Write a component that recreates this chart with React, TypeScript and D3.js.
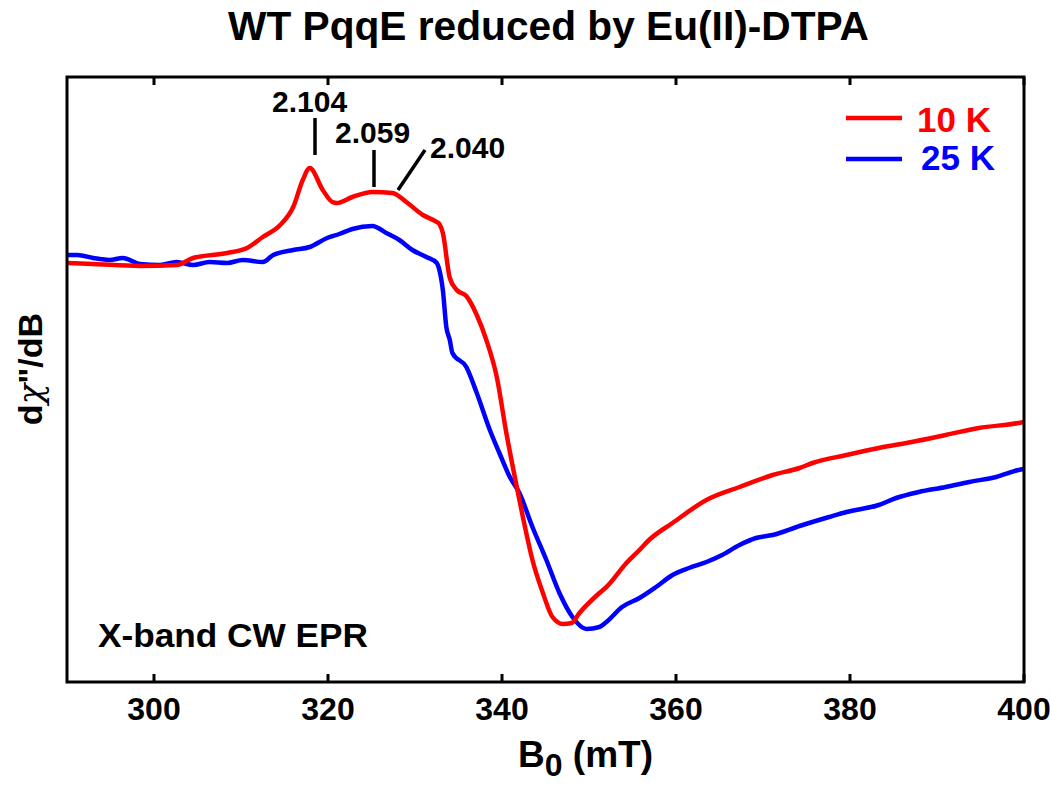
import React from "react";
import * as d3 from "d3";

// ---- data ----
const redField = [290.0, 293.0, 298.4, 302.6, 304.5, 308.4, 310.7, 312.5, 314.5, 316.0, 317.1, 317.9, 319.4, 320.5, 321.0, 322.8, 325.1, 327.4, 329.0, 330.9, 332.5, 332.8, 333.2, 334.0, 334.8, 335.9, 337.1, 338.2, 339.4, 340.5, 341.7, 342.4, 343.5, 344.7, 345.8, 347.0, 348.0, 348.9, 351.2, 352.0, 354.3, 355.8, 356.9, 359.6, 363.5, 367.3, 371.1, 374.2, 375.7, 379.6, 383.3, 387.1, 391.0, 394.8, 399.4, 400.0];
const redSignal = [0.0, -0.01, -0.03, -0.02, 0.05, 0.1, 0.15, 0.26, 0.38, 0.56, 0.83, 0.95, 0.73, 0.61, 0.6, 0.66, 0.71, 0.7, 0.61, 0.48, 0.41, 0.39, 0.3, -0.15, -0.27, -0.33, -0.52, -0.77, -1.14, -1.7, -2.24, -2.54, -2.97, -3.3, -3.54, -3.61, -3.6, -3.5, -3.3, -3.24, -3.0, -2.87, -2.77, -2.6, -2.37, -2.24, -2.12, -2.05, -2.0, -1.92, -1.85, -1.79, -1.72, -1.65, -1.6, -1.59];

const blueField = [290.0, 291.2, 293.0, 293.8, 294.9, 296.4, 298.4, 300.7, 302.6, 304.5, 306.4, 308.4, 310.2, 312.5, 313.7, 316.0, 317.9, 319.9, 321.3, 322.8, 325.1, 326.7, 328.2, 329.7, 331.3, 332.5, 332.8, 333.2, 333.6, 334.0, 334.3, 335.9, 337.1, 338.6, 339.7, 340.9, 342.0, 343.5, 345.1, 346.6, 348.1, 349.7, 351.2, 352.0, 353.8, 355.8, 357.7, 359.6, 361.5, 363.5, 365.3, 367.3, 369.2, 371.1, 374.2, 377.6, 379.6, 383.3, 385.3, 387.9, 391.0, 393.7, 396.8, 399.4, 400.0];
const blueSignal = [0.08, 0.08, 0.05, 0.04, 0.03, 0.05, -0.01, -0.02, 0.01, -0.02, 0.01, 0.0, 0.03, 0.01, 0.08, 0.13, 0.16, 0.25, 0.29, 0.34, 0.37, 0.3, 0.23, 0.13, 0.06, 0.0, -0.07, -0.27, -0.64, -0.77, -0.9, -1.04, -1.3, -1.67, -1.9, -2.14, -2.3, -2.64, -2.97, -3.3, -3.54, -3.66, -3.64, -3.59, -3.44, -3.35, -3.24, -3.12, -3.05, -2.99, -2.92, -2.82, -2.75, -2.72, -2.63, -2.54, -2.49, -2.42, -2.35, -2.29, -2.24, -2.19, -2.14, -2.07, -2.06];

const xTicks = [300, 320, 340, 360, 380, 400];
const seriesNames = ["10 K", "25 K"];
const seriesColors = ["#ff0000", "#0000ff"];
const gLabels = ["2.104", "2.059", "2.040"];

const FONT = "'Liberation Sans', Arial, sans-serif";

export default function App() {
  const W = 1050, H = 785;
  const left = 67, right = 1024, top = 77, bottom = 682;
  const x = d3.scaleLinear().domain([290, 400]).range([left, right]);
  const y = d3.scaleLinear().domain([-4.19, 1.86]).range([bottom, top]);

  const line = d3.line<[number, number]>()
    .x(d => x(d[0]))
    .y(d => y(d[1]))
    .curve(d3.curveMonotoneX);

  const redPts = redField.map((b, i) => [b, redSignal[i]] as [number, number]);
  const bluePts = blueField.map((b, i) => [b, blueSignal[i]] as [number, number]);

  return (
    <svg width={W} height={H} style={{ display: "block", position: "absolute", left: 0, top: 0 }}>
      <rect width={W} height={H} fill="#fff" />
      <text x={228} y={40} fontFamily={FONT} fontWeight="bold" fontSize={40}
        textLength={641} lengthAdjust="spacingAndGlyphs">WT PqqE reduced by Eu(II)-DTPA</text>

      <defs>
        <clipPath id="plotclip">
          <rect x={left} y={top} width={right - left} height={bottom - top} />
        </clipPath>
      </defs>

      <g clipPath="url(#plotclip)">
        <path d={line(bluePts) || ""} fill="none" stroke={seriesColors[1]} strokeWidth={4.5} strokeLinejoin="round" />
        <path d={line(redPts) || ""} fill="none" stroke={seriesColors[0]} strokeWidth={4.5} strokeLinejoin="round" />
      </g>

      {/* frame */}
      <rect x={left} y={top} width={right - left} height={bottom - top} fill="none" stroke="#000" strokeWidth={3} />

      {xTicks.map(t => (
        <g key={t}>
          <line x1={x(t)} x2={x(t)} y1={bottom} y2={bottom - 8} stroke="#000" strokeWidth={3} />
          <line x1={x(t)} x2={x(t)} y1={top} y2={top + 8} stroke="#000" strokeWidth={3} />
          <text x={x(t)} y={720} textAnchor="middle" fontFamily={FONT} fontWeight="bold" fontSize={32}>{t}</text>
        </g>
      ))}

      <text x={518} y={767} fontFamily={FONT} fontWeight="bold" fontSize={37}>
        B<tspan dy={9} fontSize={32}>0</tspan><tspan dy={-9}> (mT)</tspan>
      </text>

      <text transform="translate(42,369) rotate(-90)" textAnchor="middle" fontFamily={FONT} fontWeight="bold" fontSize={34}>
        d<tspan fontFamily="'DejaVu Serif', serif" fontWeight="normal" fontStyle="italic">χ</tspan>"/dB
      </text>

      <text x={98} y={647} fontFamily={FONT} fontWeight="bold" fontSize={34}
        textLength={270} lengthAdjust="spacingAndGlyphs">X-band CW EPR</text>

      {/* legend */}
      {seriesNames.map((n, i) => (
        <g key={n}>
          <line x1={846} x2={902} y1={118 + i * 41} y2={118 + i * 41} stroke={seriesColors[i]} strokeWidth={4.5} />
          <text x={917 + i * 4} y={132 + i * 38} fontFamily={FONT} fontWeight="bold" fontSize={35} fill={seriesColors[i]}>{n}</text>
        </g>
      ))}

      {/* g-value annotations */}
      <text x={272} y={112} fontFamily={FONT} fontWeight="bold" fontSize={30}>{gLabels[0]}</text>
      <line x1={315} x2={315} y1={118} y2={155} stroke="#000" strokeWidth={3.5} />
      <text x={335} y={143} fontFamily={FONT} fontWeight="bold" fontSize={30}>{gLabels[1]}</text>
      <line x1={374} x2={374} y1={150} y2={187} stroke="#000" strokeWidth={3.5} />
      <text x={430} y={158} fontFamily={FONT} fontWeight="bold" fontSize={30}>{gLabels[2]}</text>
      <line x1={425} x2={398} y1={150} y2={190} stroke="#000" strokeWidth={3.5} />
    </svg>
  );
}
